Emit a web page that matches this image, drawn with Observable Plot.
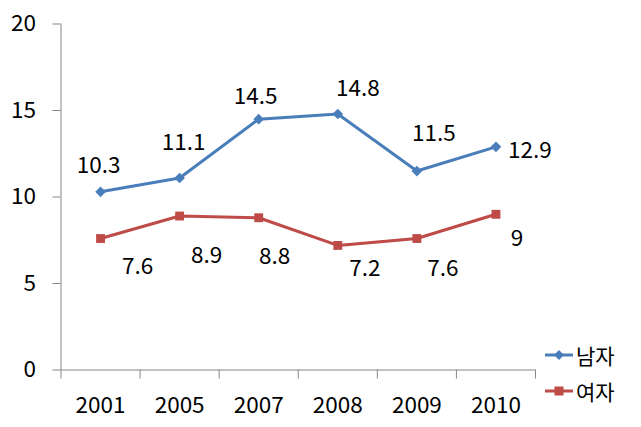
<!DOCTYPE html>
<html>
<head>
<meta charset="utf-8">
<script src="https://cdn.jsdelivr.net/npm/d3@7"></script>
<script src="https://cdn.jsdelivr.net/npm/@observablehq/plot@0.6"></script>
<style>
  html, body { margin: 0; padding: 0; background: #fff; }
  #wrap { position: relative; width: 641px; height: 427px; font-family: "Noto Sans CJK KR", "Noto Sans", sans-serif; }
  #legend { position: absolute; left: 545px; top: 337px; font-size: 21px; color: #000; }
  #legend .row { display: flex; align-items: center; height: 36px; }
  #legend svg { margin-right: 3px; }
</style>
</head>
<body>
<div id="wrap"></div>
<script>
// ---- data ----
const years = ["2001", "2005", "2007", "2008", "2009", "2010"];
const seriesNames = ["남자", "여자"];
const male = [10.3, 11.1, 14.5, 14.8, 11.5, 12.9];
const female = [7.6, 8.9, 8.8, 7.2, 7.6, 9];
const yTicks = [0, 5, 10, 15, 20];

// ---- styling (label offsets in px, as placed in the original) ----
const colors = {"남자": "#4A7EBB", "여자": "#BE4B48"};
const symbols = {"남자": "diamond2", "여자": "square"};
const labelDx = {"남자": [-2, 4, -3, 20, 17, 34], "여자": [37, 27, 16, 27, 26, 21]};
const labelDy = {"남자": [-26, -35, -22, -25, -37, 4], "여자": [28, 40, 39, 23, 30, 24]};

const rows = [];
[male, female].forEach((vals, s) => {
  vals.forEach((v, i) => rows.push({series: seriesNames[s], i, x: i + 0.5, year: years[i], value: v}));
});
const fmt = v => String(v);
const axisColor = "#868686";
const font = "Noto Sans CJK KR, Noto Sans, sans-serif";
const fs = 22.5;

const marks = [
  Plot.ruleX([0], {stroke: axisColor, strokeWidth: 1}),
  Plot.ruleY([0], {stroke: axisColor, strokeWidth: 1, x1: 0, x2: years.length}),
  Plot.axisY({ticks: yTicks, tickSize: 8, tickPadding: 17, stroke: axisColor, fill: "#000", fontSize: fs, label: null, tickFormat: d => String(d)}),
  Plot.axisX({ticks: d3.range(years.length + 1), tickSize: 9, stroke: axisColor, tickFormat: () => "", label: null}),
  Plot.axisX({ticks: years.map((d, i) => i + 0.5), tickSize: 0, tickPadding: 27, fill: "#000", fontSize: fs, label: null, tickFormat: d => years[Math.floor(d)]})
];
for (const name of seriesNames) {
  const data = rows.filter(r => r.series === name);
  marks.push(Plot.line(data, {x: "x", y: "value", stroke: colors[name], strokeWidth: 3}));
  marks.push(Plot.dot(data, {x: "x", y: "value", symbol: symbols[name], r: name === "남자" ? 4.8 : 5, fill: colors[name], stroke: "none"}));
  data.forEach((d, k) => {
    marks.push(Plot.text([d], {x: "x", y: "value", text: r => fmt(r.value), dx: labelDx[name][k], dy: labelDy[name][k], fontSize: fs, fill: "#000", textAnchor: "middle"}));
  });
}

const chart = Plot.plot({
  width: 641,
  height: 427,
  marginLeft: 60.5,
  marginRight: 106,
  marginTop: 23.5,
  marginBottom: 57.5,
  style: {fontFamily: font, background: "#fff", overflow: "visible"},
  x: {domain: [0, years.length], axis: null},
  y: {domain: [0, 20], axis: null},
  marks
});
const wrap = document.getElementById("wrap");
wrap.appendChild(chart);

// legend
const legend = document.createElement("div");
legend.id = "legend";
for (const name of seriesNames) {
  const row = document.createElement("div");
  row.className = "row";
  const c = colors[name];
  const marker = name === "남자"
    ? `<path d="M14,2 L19,7 L14,12 L9,7 Z" fill="${c}"/>`
    : `<rect x="9.5" y="2.5" width="9" height="9" fill="${c}"/>`;
  row.innerHTML = `<svg width="28" height="14"><line x1="0" y1="7" x2="28" y2="7" stroke="${c}" stroke-width="3"/>${marker}</svg><span>${name}</span>`;
  legend.appendChild(row);
}
wrap.appendChild(legend);
</script>
</body>
</html>
